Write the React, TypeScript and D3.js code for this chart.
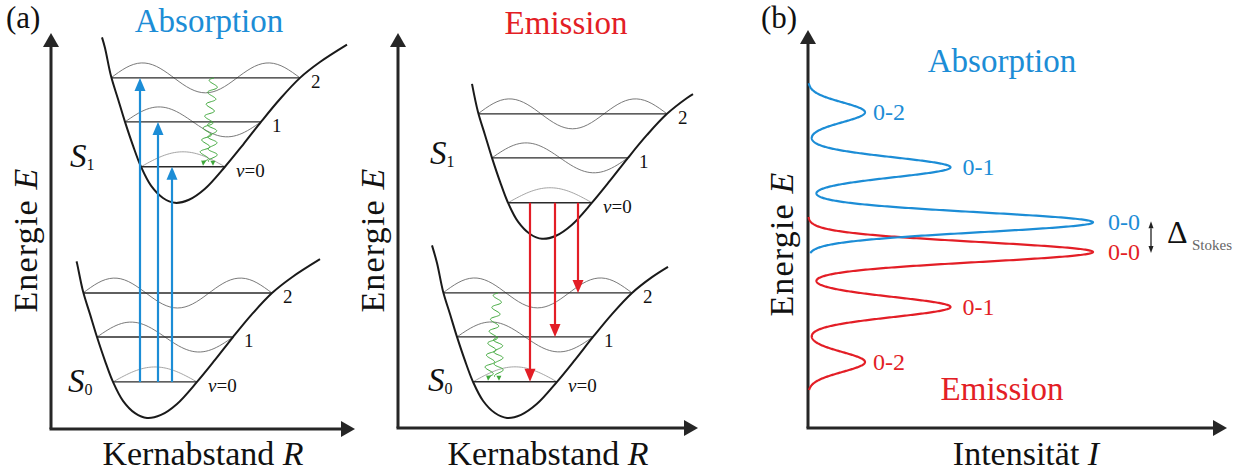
import React from "react";
import * as d3 from "d3";

const W = 1248;
const H = 472;

const BLUE = "#1c8dd6";
const RED = "#e31e26";
const GREEN = "#3fa83b";
const INK = "#262626";
const FONT =
  "'Liberation Serif', 'DejaVu Serif', 'Noto Serif', 'Times New Roman', Tinos, 'Nimbus Roman', FreeSerif, serif";

// Potential-energy curve shape relative to its minimum: [ΔR, ΔE]
const potentialShape: [number, number][] = [
  [-1.5, 3.92],
  [-1.4, 3.52],
  [-1.28, 2.88],
  [-1.14, 2.36],
  [-1.0, 1.84],
  [-0.84, 1.3],
  [-0.68, 0.82],
  [-0.48, 0.39],
  [-0.24, 0.11],
  [0.0, 0.0],
  [0.28, 0.07],
  [0.6, 0.32],
  [1.0, 0.82],
  [1.36, 1.32],
  [1.72, 1.84],
  [2.1, 2.36],
  [2.5, 2.84],
  [2.9, 3.2],
  [3.46, 3.61],
];

// Vibrational levels: energy above the minimum and the classical turning points
const vibLevels = [
  { v: 0, e: 0.82, rL: -0.68, rR: 1.0 },
  { v: 1, e: 1.84, rL: -1.0, rR: 1.72 },
  { v: 2, e: 2.84, rL: -1.28, rR: 2.5 },
];
const levelNames = ["ν=0", "1", "2"];

// Electronic states: position of the minimum [R, E] and drawn span of ΔR
const absStates = {
  S0: { min: [1.92, 0.25] as [number, number], span: [-1.41, 3.46] as [number, number] },
  S1: { min: [2.48, 5.14] as [number, number], span: [-1.46, 3.44] as [number, number] },
};
const emStates = {
  S0: { min: [2.18, 0.23] as [number, number], span: [-1.5, 3.22] as [number, number] },
  S1: { min: [2.88, 4.3] as [number, number], span: [-1.4, 3.02] as [number, number] },
};

// Vertical (Franck–Condon) transitions: R position and final vibrational level
const absTransitions = [
  { r: 1.78, level: 2 },
  { r: 2.14, level: 1 },
  { r: 2.42, level: 0 },
];
const emTransitions = [
  { r: 2.64, level: 0 },
  { r: 3.14, level: 1 },
  { r: 3.6, level: 2 },
];

// Vibrational relaxation (wavy arrows) down to ν=0
const absRelax = [
  { r0: 3.26, r1: 3.04, from: 2 },
  { r0: 3.22, r1: 3.24, from: 1 },
];
const emRelax = [
  { r0: 2.0, r1: 1.8, from: 2 },
  { r0: 2.0, r1: 2.02, from: 1 },
];

// State label positions [R, E]
const absStateLabels = { S1: [0.38, 5.95], S0: [0.34, 0.84] };
const emStateLabels = { S1: [0.64, 6.0], S0: [0.6, 0.84] };

// Vibronic bands of the spectra
const bandLabels = ["0-0", "0-1", "0-2"];
const bandIntensity = [1.0, 0.5, 0.2];
const absBandEnergy = [2.54, 3.54, 4.54];
const emBandEnergy = [2.0, 1.0, 0.0];
const bandSigma = 0.18;
const absEnergyRange: [number, number] = [1.98, 5.07];
const emEnergyRange: [number, number] = [-0.51, 2.64];
const bandLabelGap = [15, 12, 8];

const textStyle = { fontFamily: FONT };

function shapeAt(r: number): number {
  const s = potentialShape;
  for (let i = 0; i < s.length - 1; i++) {
    const [r0, e0] = s[i];
    const [r1, e1] = s[i + 1];
    if (r >= r0 && r <= r1) return e0 + ((e1 - e0) * (r - r0)) / (r1 - r0);
  }
  return r < s[0][0] ? s[0][1] : s[s.length - 1][1];
}

function curvePoints(span: [number, number]): [number, number][] {
  const inner = potentialShape.filter(([r]) => r > span[0] && r < span[1]);
  return [[span[0], shapeAt(span[0])], ...inner, [span[1], shapeAt(span[1])]];
}

function triangle(tip: [number, number], dir: [number, number], len: number, w: number) {
  const L = Math.hypot(dir[0], dir[1]);
  const ux = dir[0] / L;
  const uy = dir[1] / L;
  const bx = tip[0] - ux * len;
  const by = tip[1] - uy * len;
  const nx = -uy;
  const ny = ux;
  return `${tip[0]},${tip[1]} ${bx + (nx * w) / 2},${by + (ny * w) / 2} ${bx - (nx * w) / 2},${by - (ny * w) / 2}`;
}

function wavyPath(p0: [number, number], p1: [number, number], amp: number, wl: number) {
  const dx = p1[0] - p0[0];
  const dy = p1[1] - p0[1];
  const L = Math.hypot(dx, dy);
  const ux = dx / L;
  const uy = dy / L;
  const nx = -uy;
  const ny = ux;
  const n = Math.ceil(L * 2);
  const pts: [number, number][] = d3.range(n + 1).map((i) => {
    const s = (i / n) * L;
    const o = amp * Math.sin((2 * Math.PI * s) / wl);
    return [p0[0] + ux * s + nx * o, p0[1] + uy * s + ny * o];
  });
  return d3.line()(pts) as string;
}

function Axes({ ox, oy, xEnd, yTop }: { ox: number; oy: number; xEnd: number; yTop: number }) {
  const head = 14;
  return (
    <g>
      <line x1={ox} y1={oy} x2={ox} y2={yTop + head - 1} stroke={INK} strokeWidth={3} />
      <line x1={ox - 1.5} y1={oy} x2={xEnd - head + 1} y2={oy} stroke={INK} strokeWidth={3} />
      <polygon points={triangle([ox, yTop], [0, -1], head, 16)} fill={INK} />
      <polygon points={triangle([xEnd, oy], [1, 0], head, 16)} fill={INK} />
    </g>
  );
}

function AxisTitleY({ x, y, size }: { x: number; y: number; size: number }) {
  return (
    <text
      transform={`translate(${x},${y}) rotate(-90)`}
      textAnchor="middle"
      style={textStyle}
      fontSize={size}
      letterSpacing={1.2}
      fill="#111"
    >
      Energie <tspan fontStyle="italic">E</tspan>
    </text>
  );
}

type States = typeof absStates;

function PotentialPanel(props: {
  ox: number;
  oy: number;
  xEnd: number;
  yTop: number;
  states: States;
  kind: "abs" | "em";
  transitions: { r: number; level: number }[];
  relax: { r0: number; r1: number; from: number }[];
  stateLabels: { S1: number[]; S0: number[] };
  title: string;
  titleX: number;
  titleY: number;
}) {
  const { ox, oy, xEnd, yTop, states, kind, transitions, relax, stateLabels } = props;
  const x = d3.scaleLinear().domain([0, 6]).range([ox, ox + 300]);
  const y = d3.scaleLinear().domain([0, 9]).range([oy, oy - 396]);
  const smooth = d3
    .line<[number, number]>()
    .x((d) => x(d[0]))
    .y((d) => y(d[1]))
    .curve(d3.curveCatmullRom.alpha(0.5));
  const straight = d3
    .line<[number, number]>()
    .x((d) => x(d[0]))
    .y((d) => y(d[1]));
  const color = kind === "abs" ? BLUE : RED;
  const waveAmp = 0.34;

  const stateEls = (["S0", "S1"] as const).map((key) => {
    const st = states[key];
    const pts = curvePoints(st.span).map(([dr, de]) => [st.min[0] + dr, st.min[1] + de] as [number, number]);
    return (
      <g key={key}>
        {vibLevels.map((lv) => {
          const e = st.min[1] + lv.e;
          const xl = st.min[0] + lv.rL;
          const xr = st.min[0] + lv.rR;
          const wave = d3
            .range(0, 1.0001, 0.02)
            .map((t) => [xl + (xr - xl) * t, e + waveAmp * Math.sin((lv.v + 1) * Math.PI * t)] as [number, number]);
          return (
            <g key={lv.v}>
              <path d={straight(wave) as string} fill="none" stroke={lv.v === 0 ? "#9a9a9a" : "#6a6a6a"} strokeWidth={0.9} />
              <line x1={x(xl)} x2={x(xr)} y1={y(e)} y2={y(e)} stroke="#2a2a2a" strokeWidth={1.4} />
              <text x={x(xr) + 11} y={y(e) + 10} style={textStyle} fontSize={19} fill="#111">
                {lv.v === 0 ? (
                  <>
                    <tspan fontStyle="italic">ν</tspan>=0
                  </>
                ) : (
                  levelNames[lv.v]
                )}
              </text>
            </g>
          );
        })}
        <path d={smooth(pts) as string} fill="none" stroke="#1a1a1a" strokeWidth={2} />
      </g>
    );
  });

  const arrowEls = transitions.map((tr, i) => {
    const from = kind === "abs" ? states.S0 : states.S1;
    const to = kind === "abs" ? states.S1 : states.S0;
    const e0 = from.min[1] + vibLevels[0].e;
    const e1 = to.min[1] + vibLevels[tr.level].e;
    const px = x(tr.r);
    const y0 = y(e0);
    const y1 = y(e1);
    const dir = Math.sign(y1 - y0);
    const head = 13;
    return (
      <g key={i}>
        <line x1={px} x2={px} y1={y0} y2={y1 - dir * (head - 2)} stroke={color} strokeWidth={2.2} />
        <polygon points={triangle([px, y1], [0, dir], head, 11)} fill={color} />
      </g>
    );
  });

  const relaxEls = relax.map((rl, i) => {
    const st = kind === "abs" ? states.S1 : states.S0;
    const p0: [number, number] = [x(rl.r0), y(st.min[1] + vibLevels[rl.from].e)];
    const tip: [number, number] = [x(rl.r1), y(st.min[1] + vibLevels[0].e) - 1];
    const d: [number, number] = [tip[0] - p0[0], tip[1] - p0[1]];
    const L = Math.hypot(d[0], d[1]);
    const head = 5;
    const p1: [number, number] = [tip[0] - (d[0] / L) * (head - 1), tip[1] - (d[1] / L) * (head - 1)];
    return (
      <g key={i}>
        <path d={wavyPath(p0, p1, 4.5, 12)} fill="none" stroke={GREEN} strokeWidth={1} />
        <polygon points={triangle(tip, d, head, 5)} fill={GREEN} />
      </g>
    );
  });

  const sLabel = (key: "S0" | "S1", sub: string) => {
    const [r, e] = stateLabels[key];
    return (
      <text x={x(r)} y={y(e)} style={textStyle} fontSize={33} fill="#111">
        <tspan fontStyle="italic">S</tspan>
        <tspan fontSize={16} dy={3}>
          {sub}
        </tspan>
      </text>
    );
  };

  return (
    <g>
      <Axes ox={ox} oy={oy} xEnd={xEnd} yTop={yTop} />
      {stateEls}
      {relaxEls}
      {arrowEls}
      {sLabel("S1", "1")}
      {sLabel("S0", "0")}
      <text x={props.titleX} y={props.titleY} textAnchor="middle" style={textStyle} fontSize={33} fill={color}>
        {props.title}
      </text>
      <AxisTitleY x={ox - 14} y={240} size={34} />
      <text x={(ox + xEnd) / 2} y={465} textAnchor="middle" style={textStyle} fontSize={34} fill="#111">
        Kernabstand <tspan fontStyle="italic">R</tspan>
      </text>
    </g>
  );
}

function SpectrumPanel() {
  const ox = 808;
  const oy = 428;
  const xEnd = 1227;
  const yTop = 30;
  const xI = d3.scaleLinear().domain([0, 1]).range([ox, ox + 285]);
  const yE = d3.scaleLinear().domain([-1.2, 6]).range([oy, oy - 396]);
  const profile = (centers: number[], range: [number, number]) =>
    d3.range(range[0], range[1] + 1e-9, 0.004).map((E) => {
      const I = d3.sum(centers, (c, i) => bandIntensity[i] * Math.exp(-((E - c) ** 2) / (2 * bandSigma * bandSigma)));
      return [xI(I), yE(E)] as [number, number];
    });
  const line = d3.line();
  const absPath = line(profile(absBandEnergy, absEnergyRange)) as string;
  const emPath = line(profile(emBandEnergy, emEnergyRange)) as string;

  const labels = (centers: number[], color: string) =>
    centers.map((c, i) => (
      <text
        key={i}
        x={xI(bandIntensity[i]) + bandLabelGap[i]}
        y={yE(c) + 8}
        style={textStyle}
        fontSize={24}
        fill={color}
      >
        {bandLabels[i]}
      </text>
    ));

  const yA = yE(absBandEnergy[0]);
  const yM = yE(emBandEnergy[0]);
  const ax = 1151;

  return (
    <g>
      <Axes ox={ox} oy={oy} xEnd={xEnd} yTop={yTop} />
      <path d={emPath} fill="none" stroke={RED} strokeWidth={2.2} />
      <path d={absPath} fill="none" stroke={BLUE} strokeWidth={2.2} />
      {labels(absBandEnergy, BLUE)}
      {labels(emBandEnergy, RED)}
      <line x1={ax} x2={ax} y1={yA + 6} y2={yM - 6} stroke="#222" strokeWidth={1.3} />
      <polygon points={triangle([ax, yA - 1], [0, -1], 7, 5)} fill="#222" />
      <polygon points={triangle([ax, yM + 1], [0, 1], 7, 5)} fill="#222" />
      <text x={1167} y={(yA + yM) / 2 + 6} style={textStyle} fontSize={32} fill="#111">
        Δ
      </text>
      <text x={1192} y={(yA + yM) / 2 + 13} style={textStyle} fontSize={15} fill="#666">
        Stokes
      </text>
      <text x={1002} y={72} textAnchor="middle" style={textStyle} fontSize={33} fill={BLUE}>
        Absorption
      </text>
      <text x={1002} y={400} textAnchor="middle" style={textStyle} fontSize={33} fill={RED}>
        Emission
      </text>
      <AxisTitleY x={ox - 15} y={244} size={34} />
      <text x={1026} y={465} textAnchor="middle" style={textStyle} fontSize={34} fill="#111">
        Intensität <tspan fontStyle="italic">I</tspan>
      </text>
    </g>
  );
}

export default function App() {
  return (
    <svg
      width={W}
      height={H}
      viewBox={`0 0 ${W} ${H}`}
      style={{ position: "absolute", left: 0, top: 0, display: "block", background: "#fff" }}
    >
      <rect width={W} height={H} fill="#fff" />
      <text x={6} y={28} style={textStyle} fontSize={31} fill="#111">
        (a)
      </text>
      <text x={761} y={28} style={textStyle} fontSize={31} fill="#111">
        (b)
      </text>
      <PotentialPanel
        ox={51}
        oy={429}
        xEnd={355}
        yTop={33}
        states={absStates}
        kind="abs"
        transitions={absTransitions}
        relax={absRelax}
        stateLabels={absStateLabels}
        title="Absorption"
        titleX={209}
        titleY={32}
      />
      <PotentialPanel
        ox={398}
        oy={428}
        xEnd={698}
        yTop={33}
        states={emStates}
        kind="em"
        transitions={emTransitions}
        relax={emRelax}
        stateLabels={emStateLabels}
        title="Emission"
        titleX={566}
        titleY={34}
      />
      <SpectrumPanel />
    </svg>
  );
}
